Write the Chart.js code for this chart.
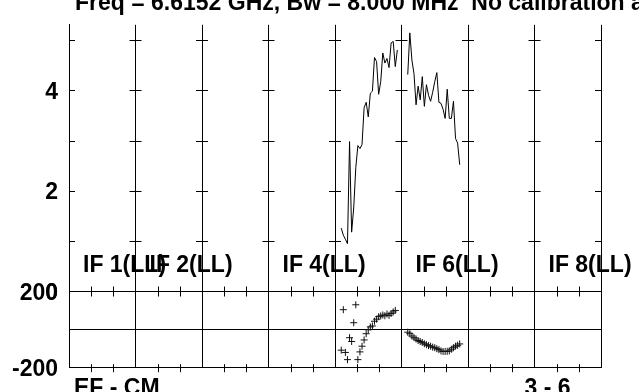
<!DOCTYPE html>
<html>
<head>
<meta charset="utf-8">
<script src="https://cdn.jsdelivr.net/npm/chart.js@4.4.1/dist/chart.umd.min.js"></script>
<style>
  html, body { margin: 0; padding: 0; background: #fff; }
</style>
</head>
<body>
<canvas id="possm" width="639" height="392"></canvas>
<script>
// POSSM-style spectrum, baseline EF - CM
const title = 'Freq = 6.6152 GHz, Bw = 8.000 MHz  No calibration applied'
const baselineLabel = 'EF - CM'
const antLabel = '3 - 6'
const ifLabels = ['IF 1(LL)', 'IF 2(LL)', 'IF 4(LL)', 'IF 6(LL)', 'IF 8(LL)']
const ifLabelNums = [1, 2, 4, 6, 8]
const nIF = 8
const nChan = 32
const firstChan = 3
const phaseTicks = [-200, 0, 200]
const ampTicks = [0, 2, 4]
const ampMinor = [1, 2, 3, 4, 5]

// IF 5 and IF 6 carry the only unflagged channels
const if5Phase = [-110, 104, -122, -160, -44, -64, 35, 130, -160, -119, -89, -56, -23, -2,
  13, 18, 43, 54, 67, 71, 76, 72, 81, 74, 84, 92, 100]
const if6Phase = [-15, -23, -35, -44, -51, -59, -64, -69, -76, -81, -86, -89, -94, -97,
  -102, -107, -114, -117, -117, -116, -114, -105, -97, -89, -84, -77]
const if5Amp = [1.26, 1.12, 1.04, 0.95, 2.98, 1.18, 1.66, 2.46, 2.90, 2.84, 2.92, 3.65, 3.76, 3.47,
  3.94, 3.98, 4.65, 4.57, 3.92, 4.17, 4.74, 4.54, 4.63, 4.45, 4.94, 4.97, 4.47, 4.80]
const if6Amp = [4.31, 5.14, 4.60, 4.33, 3.71, 4.08, 3.81, 4.27, 3.68, 4.11, 3.90, 3.78, 3.96,
  4.17, 4.35, 3.76, 3.74, 3.62, 3.44, 4.02, 3.44, 3.44, 3.78, 3.04, 2.95, 2.52]

const toXY = (ifNum, vals) => vals.map((v, i) => ({ x: ifNum - 1 + (firstChan + i) / nChan, y: v }))

const boldFont = { family: '"Liberation Sans", Arial, sans-serif', size: 23, weight: 'bold' }
const fontStr = 'bold 23px "Liberation Sans", Arial, sans-serif'

const extras = {
  id: 'extras',
  afterDraw(c) {
    const ctx = c.ctx
    const x = c.scales.x, yp = c.scales.yPhase, ya = c.scales.yAmp
    ctx.save()
    ctx.strokeStyle = '#000'
    ctx.lineWidth = 1
    ctx.beginPath()
    // small channel ticks along top, divider and bottom
    for (let i = 0; i < nIF; i++) {
      for (let k = 1; k < 3; k++) {
        const px = Math.round(x.getPixelForValue(i + k / 3)) + 0.5
        ctx.moveTo(px, yp.top); ctx.lineTo(px, yp.top + 5)
        ctx.moveTo(px, yp.bottom - 3); ctx.lineTo(px, yp.bottom + 5)
        ctx.moveTo(px, ya.bottom); ctx.lineTo(px, ya.bottom - 5)
      }
    }
    // amplitude ticks on every IF line
    for (let i = 0; i <= nIF; i++) {
      const px = x.getPixelForValue(i)
      ampMinor.forEach(v => {
        const py = Math.round(ya.getPixelForValue(v)) + 0.5
        ctx.moveTo(i === 0 ? px : px - 6, py)
        ctx.lineTo(i === nIF ? px : px + 6, py)
      })
    }
    ctx.stroke()

    ctx.fillStyle = '#000'
    ctx.font = fontStr
    ctx.textBaseline = 'alphabetic'
    ctx.textAlign = 'left'
    ctx.fillText(title, x.left + 6, 10)
    ctx.fillText(baselineLabel, x.left + 5, yp.bottom + 28)
    ctx.fillText(antLabel, x.getPixelForValue(7) - 10, yp.bottom + 28)
    ifLabels.forEach((t, i) => {
      ctx.fillText(t, x.getPixelForValue(ifLabelNums[i] - 1) + 14, ya.bottom - 20)
    })
    ctx.restore()
  }
}

new Chart(document.getElementById('possm'), {
  type: 'scatter',
  data: {
    datasets: [
      { data: toXY(5, if5Amp), yAxisID: 'yAmp', showLine: true, borderColor: '#000', borderWidth: 1, pointRadius: 0 },
      { data: toXY(6, if6Amp), yAxisID: 'yAmp', showLine: true, borderColor: '#000', borderWidth: 1, pointRadius: 0 },
      { data: toXY(5, if5Phase), yAxisID: 'yPhase', pointStyle: 'cross', pointRadius: 3.5, borderColor: '#111', borderWidth: 1 },
      { data: toXY(6, if6Phase), yAxisID: 'yPhase', pointStyle: 'cross', pointRadius: 3.5, borderColor: '#111', borderWidth: 1 }
    ]
  },
  options: {
    responsive: false,
    animation: false,
    layout: { padding: { top: 15, right: 38, bottom: 7, left: 0 } },
    plugins: { legend: { display: false }, tooltip: { enabled: false } },
    scales: {
      x: {
        type: 'linear', min: 0, max: nIF,
        afterBuildTicks: s => { s.ticks = Array.from({ length: nIF + 1 }, (_, i) => ({ value: i })) },
        ticks: { display: false },
        grid: { color: '#000', drawTicks: false },
        border: { display: true, color: '#000' },
        afterFit: s => { s.height = 0 }
      },
      yPhase: {
        type: 'linear', position: 'left', stack: 'possm', stackWeight: 81.7,
        min: -200, max: 200,
        afterBuildTicks: s => { s.ticks = phaseTicks.map(v => ({ value: v })) },
        ticks: { font: boldFont, color: '#000', padding: 11, autoSkip: false, labelOffset: 2,
          callback: v => (v === 0 ? '' : v) },
        grid: { color: '#000', drawTicks: false },
        border: { display: true, color: '#000' },
        afterFit: s => { s.width = 69 }
      },
      yAmp: {
        type: 'linear', position: 'left', stack: 'possm', stackWeight: 288,
        min: 0, max: 5.3,
        afterBuildTicks: s => { s.ticks = ampTicks.map(v => ({ value: v })) },
        ticks: { font: boldFont, color: '#000', padding: 11, autoSkip: false, labelOffset: 2 },
        grid: { drawOnChartArea: false, drawTicks: false },
        border: { display: true, color: '#000' },
        afterFit: s => { s.width = 69 }
      }
    }
  },
  plugins: [extras]
})
</script>
</body>
</html>
